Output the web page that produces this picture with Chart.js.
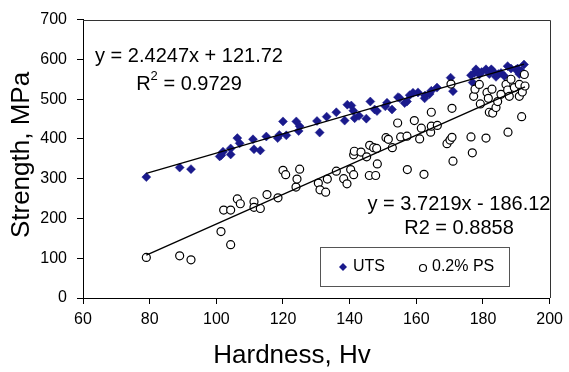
<!DOCTYPE html>
<html>
<head>
<meta charset="utf-8">
<script src="https://cdn.jsdelivr.net/npm/chart.js@4.4.1/dist/chart.umd.min.js"></script>
<style>
    html, body { margin: 0; padding: 0; background: #fff; }
    #wrap { width: 569px; height: 372px; position: relative; }
</style>
</head>
<body>
<div id="wrap"><canvas id="chart"></canvas></div>
<script>
const FONT = '"Liberation Sans", Arial, sans-serif';

// UTS readings (hardness Hv, strength MPa)
const utsHardness = [79, 89, 92.4, 101, 101.5, 102, 104.3, 104.3, 106.3, 107, 111, 111.3, 113.2, 115, 118.4, 118.9,
    120, 121, 124, 124.7, 125, 130.2, 131, 133.1, 136, 138.5, 139.3, 140.5, 141.1, 141.5, 142.8, 145, 146.2,
    147.5, 148.2, 150.7, 151.2, 152.7, 154.5, 155, 156.5, 157.2, 158, 159, 160.5, 162.5, 162.6, 164, 164.5,
    166.2, 170.3, 171, 176.4, 176.9, 177.4, 177.9, 178.9, 179.6, 180.9, 181.9, 182.5, 183, 183.9, 184.6,
    185.4, 186.4, 187.4, 188.4, 189.9, 190.4, 190.9, 191.5, 192.3];
const utsStrength = [304, 328, 324, 356, 359, 368, 361, 376, 402, 389, 399, 374, 371, 406, 402, 410,
    444, 409, 444, 420, 432, 445, 416, 456, 467, 446, 486, 484, 471, 452, 458, 451, 494,
    474, 470, 482, 491, 474, 505, 503, 490, 494, 510, 516, 517, 502, 509, 513, 521,
    529, 554, 520, 560, 542, 566, 575, 562, 568, 575, 563, 575, 570, 556, 563,
    566, 558, 583, 577, 574, 577, 563, 571, 587];

// 0.2% proof stress readings
const psHardness = [79, 89, 92.4, 101.4, 104.3, 102.2, 104.3, 106.3, 107.2, 111.3, 111.3, 113.2, 115.2, 118.5,
    120, 120.8, 123.9, 124.2, 125, 130.6, 131.1, 132.8, 133.3, 136, 138.2, 139.2, 140.3, 141.2, 141.2,
    141.4, 143.4, 145.1, 146, 147.2, 148.1, 148.3, 145.9, 147.8, 150.9, 151.6, 152.8, 154.4, 155.3,
    157.2, 157.3, 159.4, 161, 161.5, 162.3, 164.3, 164.5, 164.5, 166.3, 169.2, 170.1, 170.7, 170.7,
    170.4, 171, 176.4, 176.8, 177.2, 177.6, 178.9, 179.2, 180.9, 181.2, 181.6, 181.9, 182.9, 182.7,
    183.9, 184.4, 185.4, 186.9, 187.4, 187.9, 188.4, 189.4, 187.5, 190.9, 190.9, 191.6, 191.8, 192.4, 192.6];
const psStrength = [102, 106, 96, 167, 134, 221, 221, 249, 237, 242, 228, 225, 260, 252,
    321, 310, 279, 299, 324, 289, 272, 266, 299, 319, 300, 287, 323, 310, 360,
    369, 367, 355, 384, 378, 376, 337, 308, 308, 403, 399, 378, 440, 405,
    407, 323, 446, 400, 427, 311, 417, 432, 467, 434, 388, 397, 404, 477,
    538, 344, 405, 365, 507, 525, 537, 488, 402, 517, 502, 467, 465, 525,
    479, 494, 512, 537, 523, 507, 550, 529, 417, 537, 507, 456, 518, 562, 533];

// trendline equations as printed on the chart
const utsSlope = 2.4247, utsIntercept = 121.72;
const psSlope = 3.7219, psIntercept = -186.12;

const xTicks = [60, 80, 100, 120, 140, 160, 180, 200];
const yTicks = [0, 100, 200, 300, 400, 500, 600, 700];

function toPoints(xs, ys) {
    return xs.map((x, i) => ({x: x, y: ys[i]}));
}

function trend(xs, slope, intercept) {
    let lo = Math.min(...xs), hi = Math.max(...xs);
    return [{x: lo, y: slope * lo + intercept}, {x: hi, y: slope * hi + intercept}];
}

function drawDiamond(ctx, x, y, r, color) {
    ctx.beginPath();
    ctx.moveTo(x, y - r);
    ctx.lineTo(x + r, y);
    ctx.lineTo(x, y + r);
    ctx.lineTo(x - r, y);
    ctx.closePath();
    ctx.fillStyle = color;
    ctx.fill();
}

const decorations = {
    id: 'decorations',
    afterDraw(chart) {
        const ctx = chart.ctx;
        const a = chart.chartArea;
        ctx.save();

        // top and right frame of the plot area
        ctx.strokeStyle = '#333';
        ctx.lineWidth = 1;
        ctx.beginPath();
        ctx.moveTo(a.left, Math.round(a.top) + 0.5);
        ctx.lineTo(Math.round(a.right) + 0.5, Math.round(a.top) + 0.5);
        ctx.lineTo(Math.round(a.right) + 0.5, a.bottom);
        ctx.stroke();

        ctx.fillStyle = '#000';
        ctx.textBaseline = 'middle';

        // trendline labels
        ctx.font = '20px ' + FONT;
        ctx.textAlign = 'center';
        ctx.fillText('y = 2.4247x + 121.72', 189, 56);
        ctx.fillText('y = 3.7219x - 186.12', 459, 204);
        ctx.fillText('R2 = 0.8858', 459, 228);

        // R squared with superscript
        let big = '20px ' + FONT, small = '13px ' + FONT;
        ctx.font = big;
        let wR = ctx.measureText('R').width, wRest = ctx.measureText(' = 0.9729').width;
        ctx.font = small;
        let w2 = ctx.measureText('2').width;
        let sx = 189 - (wR + w2 + wRest) / 2;
        ctx.textAlign = 'left';
        ctx.font = big;
        ctx.fillText('R', sx, 84);
        ctx.font = small;
        ctx.fillText('2', sx + wR, 76);
        ctx.font = big;
        ctx.fillText(' = 0.9729', sx + wR + w2, 84);

        // legend box
        ctx.strokeStyle = '#555';
        ctx.strokeRect(320.5, 247.5, 189, 39);
        drawDiamond(ctx, 343, 267, 4, '#1a1a8c');
        ctx.beginPath();
        ctx.arc(423, 268, 3.5, 0, Math.PI * 2);
        ctx.fillStyle = '#fff';
        ctx.fill();
        ctx.strokeStyle = '#000';
        ctx.lineWidth = 1.2;
        ctx.stroke();
        ctx.fillStyle = '#000';
        ctx.font = '16px ' + FONT;
        ctx.fillText('UTS', 353, 267);
        ctx.fillText('0.2% PS', 432, 267);

        // axis titles
        ctx.font = '26px ' + FONT;
        ctx.textAlign = 'center';
        ctx.fillText('Hardness, Hv', 292, 356);
        ctx.translate(22, 155);
        ctx.rotate(-Math.PI / 2);
        ctx.fillText('Strength, MPa', 0, 0);
        ctx.restore();
    }
};

new Chart(document.getElementById('chart').getContext('2d'), {
    type: 'scatter',
    data: {
        datasets: [
            {
                type: 'line',
                data: trend(utsHardness, utsSlope, utsIntercept),
                borderColor: '#000',
                borderWidth: 1.3,
                pointRadius: 0,
                fill: false,
                order: 0,
            },
            {
                type: 'line',
                data: trend(psHardness, psSlope, psIntercept),
                borderColor: '#000',
                borderWidth: 1.3,
                pointRadius: 0,
                fill: false,
                order: 0,
            },
            {
                label: '0.2% PS',
                data: toPoints(psHardness, psStrength),
                pointStyle: 'circle',
                pointRadius: 4,
                pointBackgroundColor: '#fff',
                pointBorderColor: '#000',
                pointBorderWidth: 1.2,
                order: 1,
            },
            {
                label: 'UTS',
                data: toPoints(utsHardness, utsStrength),
                pointStyle: 'rectRot',
                pointRadius: 4.5,
                pointBackgroundColor: '#1a1a8c',
                pointBorderColor: '#1a1a8c',
                pointBorderWidth: 0.5,
                order: 2,
            }
        ]
    },
    options: {
        animation: false,
        responsive: true,
        maintainAspectRatio: false,
        layout: {
            padding: {top: 17, right: 16, left: 0, bottom: 0}
        },
        scales: {
            x: {
                type: 'linear',
                min: xTicks[0],
                max: xTicks[xTicks.length - 1],
                afterBuildTicks: function (scale) {
                    scale.ticks = xTicks.map(v => ({value: v}));
                },
                ticks: {
                    color: '#000',
                    font: {family: FONT, size: 16},
                    padding: 6,
                    maxRotation: 0,
                },
                grid: {
                    drawOnChartArea: false,
                    drawTicks: true,
                    tickLength: 6,
                    color: '#000',
                },
                border: {color: '#000', width: 1},
                afterFit: function (scale) {
                    scale.height = 74;
                }
            },
            y: {
                min: yTicks[0],
                max: yTicks[yTicks.length - 1],
                afterBuildTicks: function (scale) {
                    scale.ticks = yTicks.map(v => ({value: v}));
                },
                ticks: {
                    color: '#000',
                    font: {family: FONT, size: 16},
                    padding: 10,
                },
                grid: {
                    drawOnChartArea: false,
                    drawTicks: true,
                    tickLength: 6,
                    color: '#000',
                },
                border: {color: '#000', width: 1},
                afterFit: function (scale) {
                    scale.width = 83;
                }
            }
        },
        plugins: {
            legend: {display: false},
            tooltip: {enabled: false}
        }
    },
    plugins: [decorations]
});
</script>
</body>
</html>
